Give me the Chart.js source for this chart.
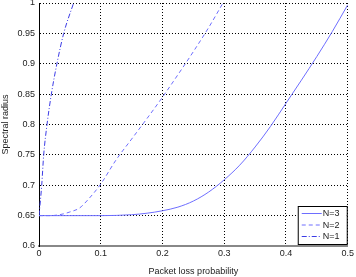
<!DOCTYPE html>
<html>
<head>
<meta charset="utf-8">
<script src="https://cdn.jsdelivr.net/npm/chart.js@4.4.0/dist/chart.umd.min.js"></script>
<style>
  html, body { margin: 0; padding: 0; background: #fff; }
  #wrap { width: 356px; height: 277px; position: relative; }
</style>
</head>
<body>
<div id="wrap"><canvas id="myChart" width="356" height="277"></canvas></div>
<script>
// data
var lossN3 = [0, 0.05, 0.1, 0.15, 0.175, 0.2, 0.225, 0.25, 0.275, 0.3, 0.325, 0.35, 0.375, 0.4, 0.425, 0.45, 0.475, 0.5];
var radiusN3 = [0.65, 0.65, 0.65, 0.6515, 0.654, 0.658, 0.664, 0.674, 0.689, 0.709, 0.733, 0.763, 0.797, 0.835, 0.873, 0.912, 0.953, 0.997];

var lossN2 = [0, 0.02, 0.03, 0.04, 0.05, 0.0656, 0.08, 0.1, 0.125, 0.15, 0.175, 0.2, 0.225, 0.25, 0.275, 0.298];
var radiusN2 = [0.65, 0.65, 0.651, 0.653, 0.656, 0.6625, 0.677, 0.702, 0.742, 0.776, 0.81, 0.845, 0.882, 0.92, 0.96, 1.0];

var lossN1 = [0, 0.0044, 0.0076, 0.013, 0.02, 0.029, 0.04, 0.056];
var radiusN1 = [0.65, 0.7, 0.75, 0.8, 0.85, 0.9, 0.95, 1.0];

var seriesNames = ["N=3", "N=2", "N=1"];
var xTickLabels = ["0", "0.1", "0.2", "0.3", "0.4", "0.5"];
var yTickLabels = ["0.6", "0.65", "0.7", "0.75", "0.8", "0.85", "0.9", "0.95", "1"];

function pts(xs, ys) {
    return xs.map(function (x, i) { return { x: x, y: ys[i] }; });
}

var lineColor = "rgb(110, 110, 255)";
var fontFam = "'Liberation Sans', Arial, sans-serif";

// legend box inside the plot, bottom right
var boxLegend = {
    id: "boxLegend",
    afterDatasetsDraw: function (chart) {
        var ctx = chart.ctx, a = chart.chartArea;
        var x0 = a.right - 50, y0 = a.bottom - 40, w = 49, h = 38;
        ctx.save();
        ctx.fillStyle = "#fff";
        ctx.fillRect(x0, y0, w, h);
        ctx.strokeStyle = "#000";
        ctx.lineWidth = 1;
        ctx.strokeRect(x0 + 0.5, y0 + 0.5, w, h);
        ctx.font = "9px " + fontFam;
        ctx.textBaseline = "middle";
        chart.data.datasets.forEach(function (ds, i) {
            var yy = y0 + 7.5 + i * 11.5;
            ctx.strokeStyle = ds.borderColor;
            ctx.lineWidth = ds.borderWidth;
            ctx.setLineDash(ds.borderDash || []);
            ctx.beginPath();
            ctx.moveTo(x0 + 4, yy);
            ctx.lineTo(x0 + 24, yy);
            ctx.stroke();
            ctx.setLineDash([]);
            ctx.fillStyle = "#222";
            ctx.fillText(ds.label, x0 + 25, yy + 0.5);
        });
        ctx.restore();
    }
};

var myChart = document.getElementById('myChart').getContext('2d');
var spectralChart = new Chart(myChart, {
    type: 'line',
    data: {
        datasets: [{
            label: seriesNames[0],
            data: pts(lossN3, radiusN3),
            borderColor: lineColor,
            borderWidth: 1,
            pointRadius: 0,
            cubicInterpolationMode: 'monotone'
        }, {
            label: seriesNames[1],
            data: pts(lossN2, radiusN2),
            borderColor: lineColor,
            borderWidth: 1,
            borderDash: [4, 3],
            pointRadius: 0,
            cubicInterpolationMode: 'monotone'
        }, {
            label: seriesNames[2],
            data: pts(lossN1, radiusN1),
            borderColor: "rgb(60, 60, 230)",
            borderWidth: 1,
            borderDash: [5, 2, 1, 2],
            pointRadius: 0,
            cubicInterpolationMode: 'monotone'
        }]
    },
    options: {
        responsive: false,
        animation: false,
        layout: { padding: { left: 0, right: 7, top: 3, bottom: 0 } },
        plugins: {
            legend: { display: false },
            tooltip: { enabled: false }
        },
        scales: {
            x: {
                type: 'linear',
                min: 0,
                max: 0.5,
                afterBuildTicks: function (scale) {
                    scale.ticks = xTickLabels.map(function (t) { return { value: parseFloat(t) }; });
                },
                afterFit: function (scale) { scale.height = 31; },
                ticks: {
                    callback: function (v, i) { return xTickLabels[i]; },
                    font: { family: fontFam, size: 9 },
                    color: "#222",
                    maxRotation: 0,
                    padding: 2
                },
                grid: {
                    color: "#000",
                    lineWidth: 1,
                    drawTicks: false
                },
                border: { display: true, color: "#888", width: 2, dash: [1, 2] },
                title: {
                    display: true,
                    text: "Packet loss probability",
                    font: { family: fontFam, size: 9 },
                    color: "#222",
                    padding: { top: 5, bottom: 0 }
                }
            },
            y: {
                type: 'linear',
                min: 0.6,
                max: 1,
                afterBuildTicks: function (scale) {
                    scale.ticks = yTickLabels.map(function (t) { return { value: parseFloat(t) }; });
                },
                afterFit: function (scale) {
                    scale.width = 39;
                    scale.paddingTop = 0;
                    scale.paddingBottom = 0;
                },
                ticks: {
                    callback: function (v, i) { return yTickLabels[i]; },
                    font: { family: fontFam, size: 9 },
                    color: "#222",
                    padding: 4
                },
                grid: {
                    color: "#000",
                    lineWidth: 1,
                    drawTicks: false
                },
                border: { display: true, color: "#000", width: 1, dash: [1, 2] },
                title: {
                    display: true,
                    text: "Spectral radius",
                    font: { family: fontFam, size: 9 },
                    color: "#222",
                    padding: { top: 0, bottom: 2 }
                }
            }
        }
    },
    plugins: [boxLegend]
});
</script>
</body>
</html>
